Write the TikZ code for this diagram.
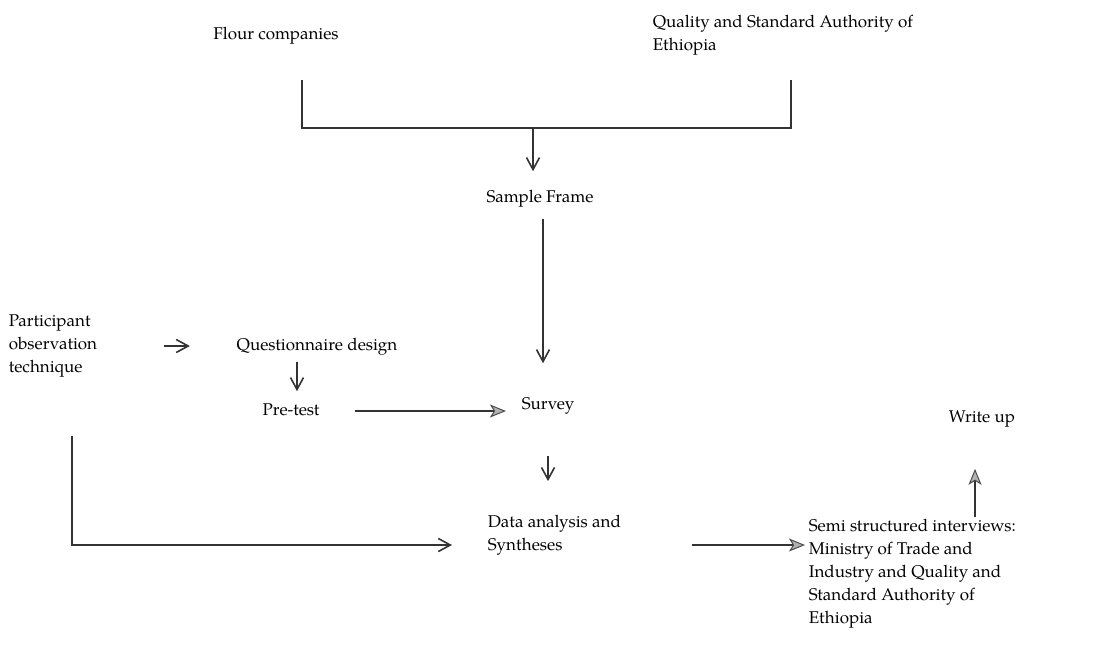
\documentclass[tikz,border=0pt]{standalone}
\usepackage{fontspec}
\setmainfont{TeX Gyre Pagella}
\usetikzlibrary{arrows.meta,positioning}

\begin{document}
\begin{tikzpicture}[
        x=0.5pt, y=-0.5pt,
        line width=0.8pt,
        every node/.style={inner sep=0pt, text height=6pt, text depth=2pt,
            font=\fontsize{8.5}{11.5}\selectfont},
        multi/.style={anchor=west, align=left, text height=, text depth=},
        link/.style={draw=black!80},
        openarr/.style={link, -{Straight Barb[length=6pt,width=6.5pt,line width=0.8pt]}},
        grayarr/.style={link, -{Stealth[length=8pt,width=6.5pt,inset=2pt,fill=gray!60,color=black!70,line width=0.5pt]}}
    ]
    \useasboundingbox (0,0) rectangle (1101,661);

    % sources
    \node (flour) at (276,35) {Flour companies};
    \node[multi] (qsae) at (652,35) {Quality and Standard Authority of\\Ethiopia};

    \node (frame) at (540,198) {Sample Frame};

    \node[multi] (part) at (8,346) {Participant\\observation\\technique};
    \node (quest) at (317,346) {Questionnaire design};
    \node (pretest) at (291,411) {Pre-test};
    \node (survey) at (548,405) {Survey};
    \node[multi] (data) at (487,535) {Data analysis and\\Syntheses};

    \node (writeup) at (982,418) {Write up};
    \node[multi] (semi) at (808,574) {Semi structured interviews:\\Ministry of Trade and\\Industry and Quality and\\Standard Authority of\\Ethiopia};

    % bracket joining the two sources
    \coordinate (fl) at (302,80);
    \coordinate (ql) at (791,80);
    \coordinate (jn) at (533,128);
    \draw[link] (fl) |- (jn) -| (ql);
    \draw[openarr, shorten >=9pt] (jn) -- (jn |- frame.north);

    \draw[openarr, shorten <=6pt, shorten >=16.5pt] ([xshift=1.5pt]frame.south) -- ([xshift=1.5pt]frame.south |- survey.north);

    \draw[openarr, shorten <=33pt, shorten >=23pt] (part.east |- quest.west) -- (quest.west);
    \coordinate (qd) at ([xshift=-10pt]quest.south);
    \draw[openarr, shorten <=3.5pt, shorten >=5.5pt] (qd) -- (qd |- pretest.north);

    \draw[grayarr, shorten <=17.5pt, shorten >=7.5pt] (pretest.east) -- (pretest.east -| survey.west);
    \draw[openarr, shorten <=21pt, shorten >=16.5pt] (survey.south) -- (survey.south |- data.north);

    \draw[openarr, shorten <=29pt, shorten >=17.5pt] ([xshift=32pt]part.south west) |- ([yshift=-5pt]data.west);
    \draw[grayarr, shorten <=35pt, shorten >=1.5pt] ([yshift=-5pt]data.east) -- ([yshift=-5pt]data.east -| semi.west);

    \coordinate (wu) at ([xshift=-3.5pt]writeup.south);
    \draw[grayarr, shorten <=1pt, shorten >=21pt] (wu |- semi.north) -- (wu);

\end{tikzpicture}
\end{document}
